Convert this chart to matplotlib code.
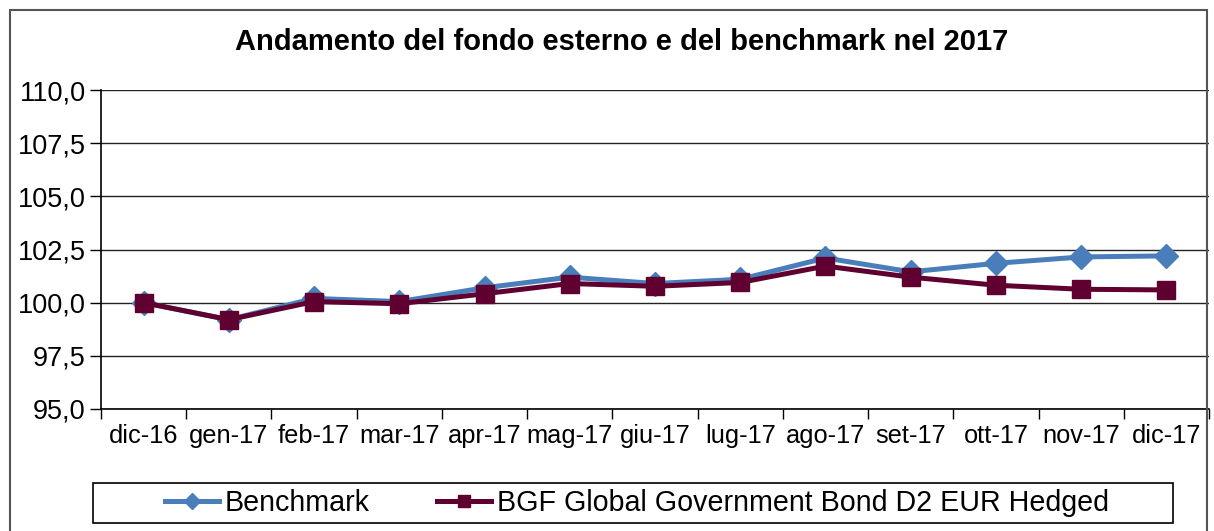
import matplotlib
matplotlib.use("Agg")
import matplotlib.pyplot as plt
from matplotlib.patches import Rectangle
from matplotlib.ticker import FixedLocator, FuncFormatter
import numpy as np

categories = ["dic-16", "gen-17", "feb-17", "mar-17", "apr-17", "mag-17", "giu-17",
              "lug-17", "ago-17", "set-17", "ott-17", "nov-17", "dic-17"]
benchmark = [100.0, 99.2, 100.2, 100.05, 100.7, 101.2, 100.9, 101.1, 102.1, 101.45, 101.85, 102.15, 102.2]
fund = [100.0, 99.2, 100.05, 99.95, 100.42, 100.9, 100.77, 100.95, 101.72, 101.2, 100.82, 100.63, 100.6]
yticks = [95.0, 97.5, 100.0, 102.5, 105.0, 107.5, 110.0]
title = "Andamento del fondo esterno e del benchmark nel 2017"
series_names = ["Benchmark", "BGF Global Government Bond D2 EUR Hedged"]

plt.rcParams['font.family'] = ['Liberation Sans', 'DejaVu Sans']

W, H = 1214, 531
fig = plt.figure(figsize=(W / 100, H / 100), dpi=100)
ax = fig.add_axes([101 / W, 1 - 409 / H, (1209 - 101) / W, (409 - 90) / H])

x = np.arange(len(categories))
ax.plot(x, benchmark, color="#4a7ebb", lw=3.6, marker="D", ms=12, mec="#4a7ebb",
        mfc="#4a7ebb", label=series_names[0], zorder=3)
ax.plot(x, fund, color="#5f0030", lw=3.6, marker="s", ms=13.5, mec="#5f0030",
        mfc="#5f0030", label=series_names[1], zorder=4)

ax.set_xlim(-0.5, len(categories) - 0.5)
ax.set_ylim(95, 110)
ax.set_yticks(yticks)
ax.yaxis.set_major_formatter(FuncFormatter(lambda v, p: f"{v:.1f}".replace(".", ",")))
ax.tick_params(axis="y", length=8, width=1, labelsize=19.5, pad=3, color="black")
ax.grid(axis="y", color="#222222", lw=1)
ax.set_axisbelow(True)

ax.set_xticks(x)
ax.set_xticklabels(categories)
ax.tick_params(axis="x", which="major", length=0, labelsize=18.3, pad=11)
ax.xaxis.set_minor_locator(FixedLocator(np.arange(-0.5, len(categories), 1.0)))
ax.tick_params(axis="x", which="minor", length=7, width=1, color="black")

for s in ["top", "right"]:
    ax.spines[s].set_visible(False)
for s in ["left", "bottom"]:
    ax.spines[s].set_color("black")
    ax.spines[s].set_linewidth(1.2)

fig.text(622 / W, 1 - 42 / H, title, ha="center", va="center", fontsize=21,
         fontweight="bold")

leg = fig.legend(loc="center", bbox_to_anchor=(637 / W, 1 - 503 / H), ncol=2,
                 frameon=False, fontsize=20.6, handlelength=1.9,
                 columnspacing=2.35, handletextpad=0.2, borderpad=0.2, markerscale=0.65)

fig.patches.append(Rectangle((93 / W, 1 - 523 / H), (1173 - 93) / W, 40 / H,
                             transform=fig.transFigure, fill=False, ec="black",
                             lw=1.2))

fig.patches.append(Rectangle((10 / W, -0.01), (1207 - 10) / W, 1 - 10 / H + 0.01,
                             transform=fig.transFigure, fill=False, ec="#555555",
                             lw=1.5))

fig.savefig("out.png", dpi=100)
